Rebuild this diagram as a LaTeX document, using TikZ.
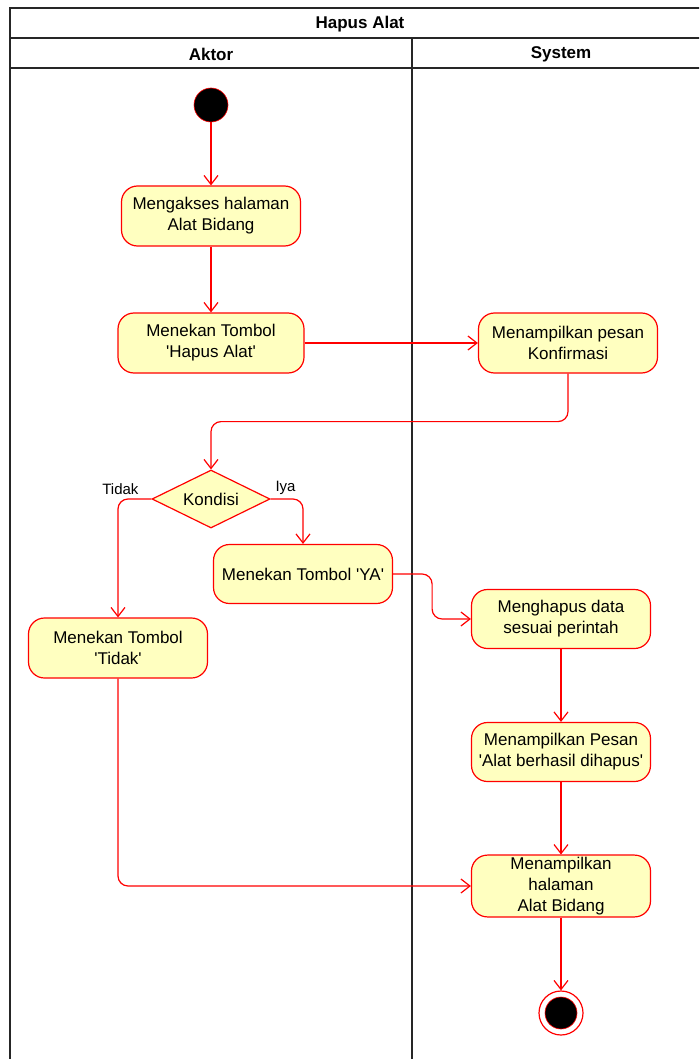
\documentclass[tikz,border=0pt]{standalone}
\usepackage{fontspec}
\setmainfont{Liberation Sans}
\usetikzlibrary{arrows.meta,shapes.geometric}
\definecolor{actfill}{HTML}{FFFFC0}
\definecolor{actline}{HTML}{FF0000}
\newcommand{\sq}{\textquotesingle}
\begin{document}
\begin{tikzpicture}[x=1pt,y=-1pt,
  action/.style={rectangle, rounded corners=16pt, draw=actline, fill=actfill,
    line width=1.2pt, minimum width=179pt, minimum height=60pt, align=center,
    inner sep=2pt, font=\fontsize{17}{21}\selectfont},
  flow/.style={draw=actline, line width=1.2pt, rounded corners=10pt,
    -{Straight Barb[length=9pt,width=14pt]}},
  frame/.style={draw=black!85, line width=1.4pt},
  head/.style={font=\fontsize{17}{20}\bfseries\selectfont},
  guard/.style={font=\fontsize{15}{18}\selectfont}
]
\useasboundingbox (0,0) rectangle (699,1059);
\begin{scope}
\clip (0,0) rectangle (699,1059);
% swimlane frame
\draw[frame] (10,1080) -- (10,8) -- (730,8);
\draw[frame] (10,38) -- (730,38);
\draw[frame] (10,68) -- (730,68);
\draw[frame] (412,38) -- (412,1080);
\end{scope}
\node[head] (title) at (360,24) {Hapus Alat};
\node[head] (aktor) at (211,54) {Aktor};
\node[head] (system) at (561,54) {System};

% activity nodes
\node[circle, fill=black, draw=actline, line width=0.6pt, minimum size=34pt, inner sep=0] (start) at (211,105) {};
\node[action] (akses) at (211,216) {Mengakses halaman\\Alat Bidang};
\node[action, minimum width=186pt] (hapus) at (211,343) {Menekan Tombol\\\sq Hapus Alat\sq};
\node[action] (konf) at (568,343) {Menampilkan pesan\\Konfirmasi};
\node[diamond, draw=actline, fill=actfill, line width=1.2pt, minimum width=118pt,
  minimum height=58pt, inner sep=0, aspect=2, font=\fontsize{17}{21}\selectfont] (dec) at (211,499) {Kondisi};
\node[action, minimum height=59pt] (ya) at (303,574) {Menekan Tombol \sq YA\sq};
\node[action] (tidak) at (118,648) {Menekan Tombol\\\sq Tidak\sq};
\node[action, minimum height=59pt] (hps) at (561,619) {Menghapus data\\sesuai perintah};
\node[action, minimum height=59pt] (pesan) at (561,752) {Menampilkan Pesan\\\sq Alat berhasil dihapus\sq};
\node[action] (hal) at (561,886) {Menampilkan\\halaman\\Alat Bidang};
\node[circle, draw=actline, fill=white, line width=1.2pt, minimum size=44pt, inner sep=0] (end) at (561,1013) {};
\node[circle, fill=black, draw=actline, line width=0.6pt, minimum size=32pt, inner sep=0] (endin) at (end) {};

% guard labels
\node[guard, anchor=east] (lt) at (142,489) {Tidak};
\node[guard, anchor=west] (ly) at (272,488) {Iya};

% control flow
\draw[flow] (start) -- (akses);
\draw[flow] (akses) -- (hapus);
\draw[flow] (hapus) -- (konf);
\draw[flow] (konf.south) -- ++(0,48) -| (dec.north);
\draw[flow] (dec.west) -| (tidak.north);
\draw[flow] (dec.east) -| (ya.north);
\draw[flow] (ya.east) -- ++(39,0) |- (hps.west);
\draw[flow] (hps) -- (pesan);
\draw[flow] (pesan) -- (hal);
\draw[flow] (tidak.south) |- (hal.west);
\draw[flow] (hal) -- (end);
\end{tikzpicture}
\end{document}
